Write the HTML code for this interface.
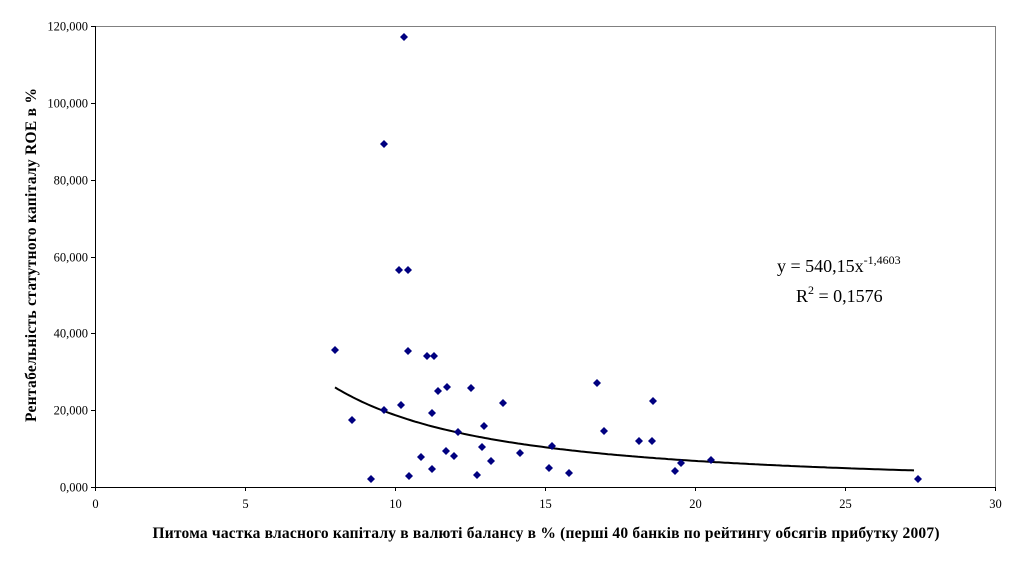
<!DOCTYPE html>
<html><head><meta charset="utf-8"><style>
html,body{margin:0;padding:0;background:#fff;width:1020px;height:563px;overflow:hidden}
svg text{font-family:"Liberation Serif",serif;fill:#000}
</style></head><body>
<svg id="s" width="1020" height="563" xmlns="http://www.w3.org/2000/svg">
<line x1="95" y1="26.5" x2="996" y2="26.5" stroke="#808080" stroke-width="1"/>
<line x1="995.5" y1="26" x2="995.5" y2="487" stroke="#808080" stroke-width="1"/>
<line x1="95.5" y1="26" x2="95.5" y2="487" stroke="#000" stroke-width="1"/>
<line x1="95" y1="487.5" x2="996" y2="487.5" stroke="#000" stroke-width="1"/>
<g id="ticks" stroke="#000" stroke-width="1"></g>
<g id="lbl" font-size="12.5"></g>
<path id="curve" fill="none" stroke="#000" stroke-width="2"/>
<g id="pts" fill="#000080"></g>
<text x="36" y="255" font-size="15.5" font-weight="bold" text-anchor="middle" textLength="334" transform="rotate(-90 36 255)">Рентабельність статутного капіталу ROE в %</text>
<text x="546" y="538" font-size="15.5" font-weight="bold" text-anchor="middle" textLength="787">Питома частка власного капіталу в валюті балансу в % (перші 40 банків по рейтингу обсягів прибутку 2007)</text>
<text x="777" y="272" font-size="18">y = 540,15x<tspan font-size="12" dy="-8">-1,4603</tspan></text>
<text x="796" y="302" font-size="18">R<tspan font-size="12" dy="-8">2</tspan><tspan dy="8"> = 0,1576</tspan></text>
</svg>
<script>
var ns="http://www.w3.org/2000/svg";
function el(t,a,p,txt){var e=document.createElementNS(ns,t);for(var k in a)e.setAttribute(k,a[k]);if(txt!=null)e.textContent=txt;document.getElementById(p).appendChild(e);}
var X=function(v){return 95+v*30},Y=function(v){return 487-v*461/120};
for(var i=0;i<=6;i++){var y=Math.round(Y(i*20))+0.5;el("line",{x1:91,y1:y,x2:95,y2:y},"ticks");
el("text",{x:88,y:y+4,"text-anchor":"end"},"lbl",(i*20)+",000");}
for(var i=0;i<=6;i++){var x=Math.round(X(i*5))+0.5;el("line",{x1:x,y1:487,x2:x,y2:491},"ticks");
el("text",{x:x,y:508,"text-anchor":"middle"},"lbl",""+i*5);}
var d="";for(var v=8;v<=27.4;v+=0.1){d+=(d?"L":"M")+X(v).toFixed(1)+","+Y(540.15*Math.pow(v,-1.4603)).toFixed(1);}
document.getElementById("curve").setAttribute("d",d);
var P=[[335,350],[352,420],[371,479],[384,410],[384,144],[399,270],[401,405],[404,37],[408,270],[408,351],[409,476],[421,457],[427,356],[434,356],[432,413],[432,469],[438,391],[446,451],[447,387],[454,456],[458,432],[471,388],[477,475],[482,447],[484,426],[491,461],[503,403],[520,453],[549,468],[552,446],[569,473],[597,383],[604,431],[639,441],[652,441],[653,401],[675,471],[681,463],[711,460],[918,479]];
P.forEach(function(p){el("path",{d:"M"+p[0]+","+(p[1]-4)+"L"+(p[0]+4)+","+p[1]+"L"+p[0]+","+(p[1]+4)+"L"+(p[0]-4)+","+p[1]+"Z"},"pts");});
</script>
</body></html>
